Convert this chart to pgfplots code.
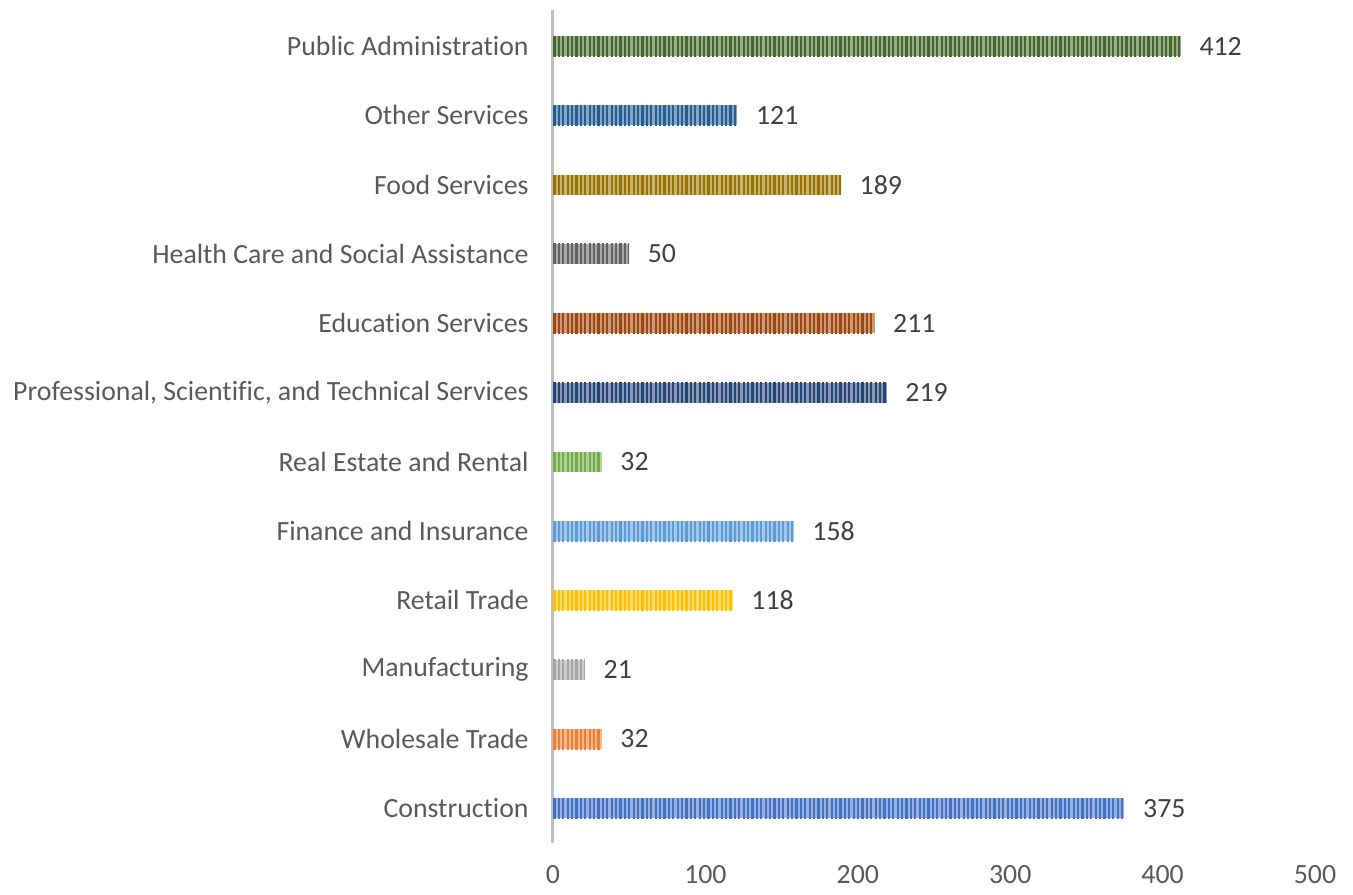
\documentclass[border=0pt]{standalone}
\usepackage{fontspec}
\setmainfont{Carlito}[Ligatures=NoCommon]
\usepackage{pgfplots}
\pgfplotsset{compat=1.18}
\usetikzlibrary{patterns.meta}
\definecolor{c1}{HTML}{4472C4}
\definecolor{c2}{HTML}{ED7D31}
\definecolor{c3}{HTML}{A5A5A5}
\definecolor{c4}{HTML}{FFC000}
\definecolor{c5}{HTML}{5B9BD5}
\definecolor{c6}{HTML}{70AD47}
\definecolor{c7}{HTML}{264478}
\definecolor{c8}{HTML}{9E480E}
\definecolor{c9}{HTML}{636363}
\definecolor{c10}{HTML}{997300}
\definecolor{c11}{HTML}{255E91}
\definecolor{c12}{HTML}{43682B}
\definecolor{lbl}{HTML}{595959}
\definecolor{vlbl}{HTML}{404040}
\pgfplotsset{sbar/.style={draw=none, preaction={fill=#1!55!white},
  pattern={Lines[angle=90,distance=2.2pt,line width=1.1pt]}, pattern color=#1}}
\begin{document}
\begin{tikzpicture}
\useasboundingbox (-276.5pt,-25.5pt) rectangle (400pt,421.5pt);
\begin{axis}[
  anchor=south west,
  at={(0pt,0pt)},
  scale only axis,
  xbar, bar width=10pt, bar shift=0pt,
  width=381pt, height=416.5pt,
  xmin=0, xmax=500, ymin=-0.5, ymax=11.52,
  axis lines*=left,
  x axis line style={draw=none},
  y axis line style={draw=black!25, line width=1.5pt},
  xtick={0,100,...,500},
  ytick={0,...,11},
  yticklabels={Construction,Wholesale Trade,Manufacturing,Retail Trade,Finance and Insurance,Real Estate and Rental,{Professional, Scientific, and Technical Services},Education Services,Health Care and Social Assistance,Food Services,Other Services,Public Administration},
  major tick length=0pt,
  tick label style={font=\fontsize{13.9}{15}\selectfont, text=lbl},
  /pgf/number format/assume math mode=true,
  yticklabel style={anchor=east, inner sep=0pt, xshift=-12pt},
  xticklabel style={anchor=north, inner sep=0pt, yshift=-11pt},
  nodes near coords,
  every node near coord/.append style={font=\fontsize{13.9}{15}\selectfont, text=vlbl, anchor=west, xshift=5.8pt},
  clip=false,
]
\addplot[sbar=c1] coordinates {(375,0)};
\addplot[sbar=c2] coordinates {(32,1)};
\addplot[sbar=c3] coordinates {(21,2)};
\addplot[sbar=c4] coordinates {(118,3)};
\addplot[sbar=c5] coordinates {(158,4)};
\addplot[sbar=c6] coordinates {(32,5)};
\addplot[sbar=c7] coordinates {(219,6)};
\addplot[sbar=c8] coordinates {(211,7)};
\addplot[sbar=c9] coordinates {(50,8)};
\addplot[sbar=c10] coordinates {(189,9)};
\addplot[sbar=c11] coordinates {(121,10)};
\addplot[sbar=c12] coordinates {(412,11)};
\end{axis}
\end{tikzpicture}
\end{document}
